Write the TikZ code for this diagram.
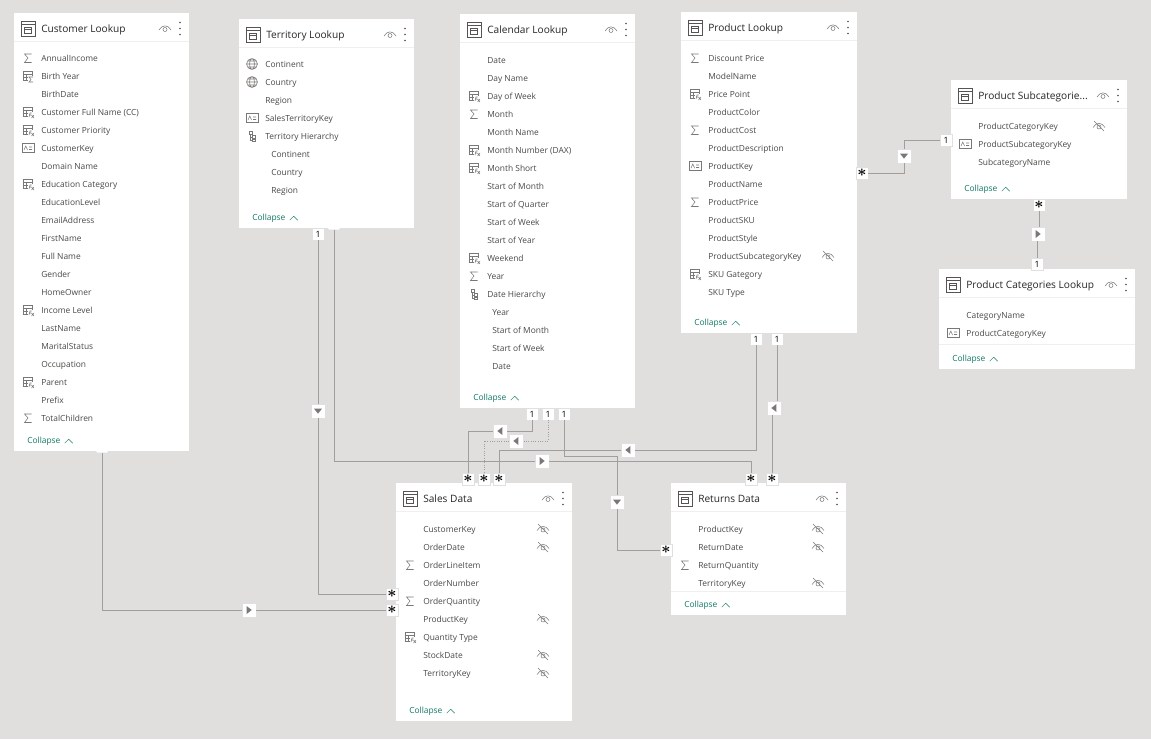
\documentclass[tikz,border=0pt]{standalone}
\usepackage{fontspec}
\setmainfont{Open Sans}
\usetikzlibrary{positioning}

\definecolor{canvas}{HTML}{E1DFDD}
\definecolor{relline}{HTML}{A19F9D}
\definecolor{fieldtext}{HTML}{4A4947}
\definecolor{icongrey}{HTML}{7A7876}
\definecolor{teal}{HTML}{117865}
\definecolor{hairline}{HTML}{F0EFEE}

\tikzstyle{card} = [fill=white, inner sep=0pt, anchor=north west]
\tikzstyle{cardtitle} = [anchor=west, inner sep=0pt, text=black!85, text height=5.5pt, text depth=.9pt,
    font=\fontsize{7.6}{9}\selectfont]
\tikzstyle{field} = [anchor=west, inner sep=0pt, text=fieldtext, text height=4.5pt, text depth=.6pt,
    font=\fontsize{6.3}{8}\selectfont]
\tikzstyle{collapse} = [anchor=west, inner sep=0pt, text=teal, text height=4.5pt, text depth=.6pt,
    font=\fontsize{6.3}{8}\selectfont]
\tikzstyle{badge} = [fill=white, draw=black!12, line width=.2pt, inner sep=0pt, minimum size=9pt,
    font=\fontsize{6.5}{8}\selectfont]
\tikzstyle{manybadge} = [badge, font=\fontsize{13}{13}\selectfont\boldmath]
\tikzstyle{flag} = [fill=white, draw=black!12, line width=.2pt, inner sep=0pt, minimum size=10pt]
\tikzstyle{flagright} = [flag, path picture={\fill[icongrey] (2pt,0pt) -- (-1.8pt,3pt) -- (-1.8pt,-3pt) -- cycle;}]
\tikzstyle{flagleft} = [flag, path picture={\fill[icongrey] (-2pt,0pt) -- (1.8pt,3pt) -- (1.8pt,-3pt) -- cycle;}]
\tikzstyle{flagdown} = [flag, path picture={\fill[icongrey] (0pt,-2pt) -- (3pt,1.8pt) -- (-3pt,1.8pt) -- cycle;}]
\tikzstyle{tmp} = [coordinate]
\tikzstyle{stub} = [fill=white, rounded corners=1pt, inner sep=0pt, minimum width=9pt, minimum height=2.5pt]
\tikzstyle{rel} = [draw=relline, line width=.75pt]
\tikzstyle{icon} = [draw=icongrey, line width=.4pt]
\tikzstyle{rule} = [hairline, line width=.6pt]

% field icons, drawn round the local origin
\newcommand{\icnone}{}
\newcommand{\icsum}{\draw[icon] (3.5,-4) -- (-3.5,-4) -- (0,0) -- (-3.5,4.5) -- (3.5,4.5);}
\newcommand{\iccalc}{%
    \draw[icon] (-5,-5) rectangle (4,4) (-5,-2) -- (4,-2) (-5,1) -- (4,1) (-2,-2) -- (-2,4);
    \fill[white] (0,0) rectangle (6,6);
    \draw[icon] (1,5) -- (2,1) -- (3.5,1) (1,3) -- (3,3) (3.5,3) -- (6,6) (6,3) -- (3.5,6);}
\newcommand{\iccsum}{%
    \draw[icon] (-5,-5) rectangle (4,4) (-5,-2) -- (4,-2) (-5,1) -- (4,1) (-2,-2) -- (-2,4);
    \fill[white] (0,0) rectangle (6,6);
    \draw[icon] (5,1) -- (1,1) -- (3,3.5) -- (1,6) -- (5,6);}
\newcommand{\ickey}{%
    \draw[icon] (-6,-4.5) rectangle (6,4.5);
    \draw[icon] (-4,2) -- (-2.2,-2) -- (-.5,2) (1,-1) -- (4,-1) (1,1.5) -- (4,1.5);}
\newcommand{\icglobe}{%
    \draw[icon] (0,0) circle (5.5) (0,0) ellipse (2.5 and 5.5) (-5.5,0) -- (5.5,0)
        (-4.5,-3) -- (4.5,-3) (-4.5,3) -- (4.5,3);}
\newcommand{\ichier}{%
    \draw[icon] (-3,-5) rectangle (0,-2) (0,-.5) rectangle (3,2) (0,3) rectangle (3,5.5)
        (-1.5,-2) -- (-1.5,4.5) -- (0,4.5) (-1.5,1) -- (0,1);}
\newcommand{\icshow}{%
    \draw[icon] (-6,1.5) .. controls (-3,-4) and (3,-4) .. (6,1.5) (0,1) circle (2);}
\newcommand{\ichide}{%
    \icshow \draw[icon] (-5,-5) -- (5,5);}

% name, left, top, right, bottom, title
\newcommand{\tablecard}[6]{
    \node [card, minimum width={(#4-#2)*.75pt}, minimum height={(#5-#3)*.75pt}] (#1) at (#2,#3) {};
    \draw [rule] (#2,#3+28) -- (#4,#3+28);
    \node [cardtitle] (#1title) at (#2+27,#3+16.5) {#6};
    \draw [icongrey!70!black, line width=.6pt] (#2+7,#3+8) rectangle (#2+21,#3+23)
        (#2+7,#3+11) -- (#2+21,#3+11) (#2+10.5,#3+14) rectangle (#2+17.5,#3+20) (#2+10.5,#3+16.5) -- (#2+17.5,#3+16.5);
    \begin{scope}[shift={(#4-24,#3+15.5)}] \icshow \end{scope}
    \fill [black!70] (#4-9,#3+9.5) circle (.9) (#4-9,#3+15.5) circle (.9) (#4-9,#3+21.5) circle (.9);
    \node [collapse] (#1fold) at (#2+13,#5-10) {Collapse};
    \draw [teal, line width=.35pt] ([xshift=3pt,yshift=-1.6pt]#1fold.east) -- ++(3pt,3pt) -- ++(3pt,-3pt);
}
% card, text x, first row y, hide icon x, rows of text/icon/hide
\newcommand{\fieldrows}[5]{
    \foreach \lab/\ic/\hid [count=\n from 0] in {#5} {
        \node [field] (#1row\n) at (#2,#3+.8+18*\n) {\lab};
        \begin{scope}[shift={(#2-13,#3+18*\n)}] \csname ic\ic\endcsname \end{scope}
        \begin{scope}[shift={(#4,#3+18*\n)}] \csname ic\hid\endcsname \end{scope}
    }
}

\begin{document}
\begin{tikzpicture}[x=.75pt, y=-.75pt]
    \fill [canvas] (0,0) rectangle (1151,739);

    \tablecard{cust}{14}{13}{189}{451}{Customer Lookup}
    \fieldrows{cust}{41}{58}{0}{AnnualIncome/sum/none, Birth Year/csum/none, BirthDate/none/none,
        Customer Full Name (CC)/calc/none, Customer Priority/calc/none, CustomerKey/key/none,
        Domain Name/none/none, Education Category/calc/none, EducationLevel/none/none,
        EmailAddress/none/none, FirstName/none/none, Full Name/none/none, Gender/none/none,
        HomeOwner/none/none, Income Level/calc/none, LastName/none/none, MaritalStatus/none/none,
        Occupation/none/none, Parent/calc/none, Prefix/none/none, TotalChildren/sum/none}

    \tablecard{terr}{239}{19}{414}{228}{Territory Lookup}
    \fieldrows{terr}{265}{64}{0}{Continent/globe/none, Country/globe/none, Region/none/none,
        SalesTerritoryKey/key/none, Territory Hierarchy/hier/none}
    \fieldrows{terrsub}{271}{154}{0}{Continent/none/none, Country/none/none, Region/none/none}

    \tablecard{cal}{460}{14}{635}{408}{Calendar Lookup}
    \fieldrows{cal}{487}{60}{0}{Date/none/none, Day Name/none/none, Day of Week/calc/none,
        Month/sum/none, Month Name/none/none, Month Number (DAX)/calc/none, Month Short/calc/none,
        Start of Month/none/none, Start of Quarter/none/none, Start of Week/none/none,
        Start of Year/none/none, Weekend/calc/none, Year/sum/none, Date Hierarchy/hier/none}
    \fieldrows{calsub}{492}{312}{0}{Year/none/none, Start of Month/none/none,
        Start of Week/none/none, Date/none/none}

    \tablecard{prod}{681}{12}{857}{333}{Product Lookup}
    \fieldrows{prod}{708}{58}{828}{Discount Price/sum/none, ModelName/none/none, Price Point/calc/none,
        ProductColor/none/none, ProductCost/sum/none, ProductDescription/none/none, ProductKey/key/none,
        ProductName/none/none, ProductPrice/sum/none, ProductSKU/none/none, ProductStyle/none/none,
        ProductSubcategoryKey/none/hide, SKU Gategory/calc/none, SKU Type/none/none}

    \tablecard{subc}{951}{80}{1127}{199}{Product Subcategorie...}
    \fieldrows{subc}{978}{126}{1099}{ProductCategoryKey/none/hide, ProductSubcategoryKey/key/none,
        SubcategoryName/none/none}

    \tablecard{catg}{939}{269}{1135}{369}{Product Categories Lookup}
    \fieldrows{catg}{966}{315}{0}{CategoryName/none/none, ProductCategoryKey/key/none}
    \draw [rule] (939,344) -- (1135,344);

    \tablecard{sales}{396}{483}{572}{721}{Sales Data}
    \fieldrows{sales}{423}{529}{543}{CustomerKey/none/hide, OrderDate/none/hide, OrderLineItem/sum/none,
        OrderNumber/none/none, OrderQuantity/sum/none, ProductKey/none/hide, Quantity Type/calc/none,
        StockDate/none/hide, TerritoryKey/none/hide}

    \tablecard{ret}{671}{483}{846}{615}{Returns Data}
    \fieldrows{ret}{698}{529}{818}{ProductKey/none/hide, ReturnDate/none/hide, ReturnQuantity/sum/none,
        TerritoryKey/none/hide}
    \draw [rule] (671,591) -- (846,591);

    \node [stub] (custout) at (102,451) {};
    \node [stub] (terrout) at (334,228) {};
    \node [badge] (terrone) at (318,234) {1};
    \node [badge] (calone) at (532,414) {1};
    \node [badge] (caltwo) at (548,414) {1};
    \node [badge] (calthree) at (564,414) {1};
    \node [badge] (prodone) at (756,339) {1};
    \node [badge] (prodtwo) at (777,339) {1};
    \node [badge] (subcone) at (946,140) {1};
    \node [badge] (catgone) at (1037,264) {1};
    \node [manybadge] (prodmany) at (862,173) {$\ast$};
    \node [manybadge] (subcmany) at (1039,205) {$\ast$};
    \node [manybadge] (salesa) at (468,479) {$\ast$};
    \node [manybadge] (salesb) at (484,479) {$\ast$};
    \node [manybadge] (salesc) at (499,479) {$\ast$};
    \node [manybadge] (salesd) at (392,594) {$\ast$};
    \node [manybadge] (salese) at (392,610) {$\ast$};
    \node [manybadge] (reta) at (751,479) {$\ast$};
    \node [manybadge] (retb) at (772,479) {$\ast$};
    \node [manybadge] (retc) at (666,550) {$\ast$};

    \node [flagright] (fcust) at (249,610) {};
    \node [flagdown] (fterr) at (318,411) {};
    \node [flagright] (fterrret) at (542,461) {};
    \node [flagleft] (fcala) at (500,431) {};
    \node [flagleft] (fcalb) at (516,441) {};
    \node [flagdown] (fcalc) at (617,502) {};
    \node [flagleft] (fprodsales) at (628,450) {};
    \node [flagleft] (fprodret) at (774,408) {};
    \node [flagdown] (fsubc) at (904,156) {};
    \node [flagright] (fcatg) at (1038,234) {};
    \node [tmp] (calcturn) at (617,456) {};

    \draw [rel] (custout) |- (fcust);
    \draw [rel] (fcust) -- (salese);
    \draw [rel] (terrone) -- (fterr);
    \draw [rel] (fterr) |- (salesd);
    \draw [rel] (terrout) |- (fterrret);
    \draw [rel] (fterrret) -| (reta);
    \draw [rel] (calone) |- (fcala);
    \draw [rel] (fcala) -| (salesa);
    \draw [rel, densely dotted] (caltwo) |- (fcalb);
    \draw [rel, densely dotted] (fcalb) -| (salesb);
    \draw [rel] (calthree) |- (calcturn) -- (fcalc);
    \draw [rel] (fcalc) |- (retc);
    \draw [rel] (prodone) |- (fprodsales);
    \draw [rel] (fprodsales) -| (salesc);
    \draw [rel] (prodtwo) -- (prodtwo |- fprodret.north);
    \draw [rel] (retb |- fprodret.south) -- (retb);
    \draw [rel] (prodmany) -| (fsubc);
    \draw [rel] (fsubc) |- (subcone);
    \draw [rel] (subcmany) -- (subcmany |- fcatg.north);
    \draw [rel] (catgone |- fcatg.south) -- (catgone);
\end{tikzpicture}
\end{document}
